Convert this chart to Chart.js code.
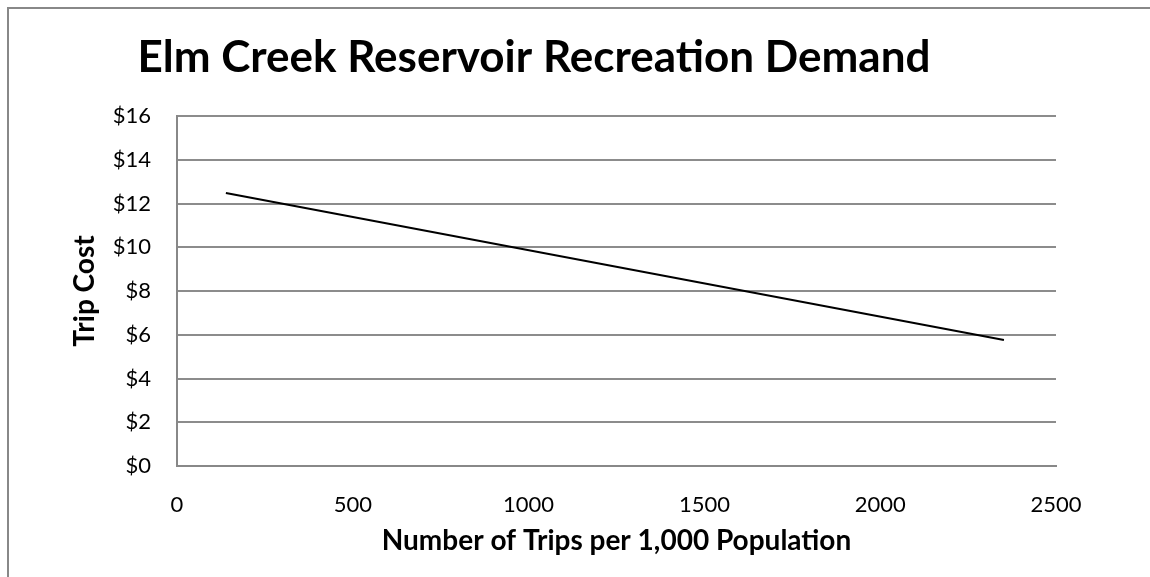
<!DOCTYPE html>
<html>
<head>
<meta charset="utf-8">
<script src="https://cdn.jsdelivr.net/npm/chart.js@4"></script>
<style>
  html, body { margin: 0; padding: 0; background: #fff; }
  #wrap { position: relative; width: 1150px; height: 577px; overflow: hidden; }
  #frame { position: absolute; left: 7px; top: 7px; width: 1160px; height: 600px; border: 2px solid #888; box-sizing: border-box; }
  canvas { position: absolute; left: 0; top: 0; }
</style>
</head>
<body>
<div id="wrap">
  <div id="frame"></div>
  <canvas id="demandChart" width="1150" height="577"></canvas>
</div>
<script>
// demand line (trips per 1,000 people, trip cost $)
let trips = [139, 2352];
let tripCost = [12.48, 5.76];
let xTicks = [0, 500, 1000, 1500, 2000, 2500];
let yTicks = [0, 2, 4, 6, 8, 10, 12, 14, 16];

let titleText = "Elm Creek Reservoir Recreation Demand";
let fontName = "Lato, 'Open Sans', sans-serif";

let points = trips.map((t, i) => ({ x: t, y: tripCost[i] }));

// title is drawn off-centre like in the excel chart
let titlePlugin = {
    id: 'sheetTitle',
    afterDraw(chart) {
        let c = chart.ctx;
        c.save();
        c.fillStyle = '#000';
        c.font = "bold 44px " + fontName;
        c.textAlign = 'center';
        c.textBaseline = 'middle';
        c.fillText(titleText, 534, 58);
        c.restore();
    }
};

let ctx = document.getElementById("demandChart").getContext("2d");

let chart = new Chart(ctx, {
    type: 'scatter',
    data: {
        datasets: [{
            label: 'Demand',
            data: points,
            showLine: true,
            borderColor: '#000',
            borderWidth: 2,
            pointRadius: 0,
            tension: 0
        }]
    },
    options: {
        responsive: false,
        animation: false,
        layout: { padding: { top: 116, right: 94, left: 68, bottom: 19 } },
        plugins: {
            legend: { display: false },
            tooltip: { enabled: false }
        },
        scales: {
            x: {
                type: 'linear',
                min: 0,
                max: 2500,
                afterBuildTicks: axis => { axis.ticks = xTicks.map(v => ({ value: v })); },
                afterFit: axis => { axis.height = 92; },
                grid: { display: false, drawTicks: false },
                border: { display: true, color: '#888', width: 2 },
                ticks: {
                    color: '#000',
                    padding: 26,
                    maxRotation: 0,
                    font: { family: fontName, size: 22 },
                    callback: v => String(v)
                },
                title: {
                    display: true,
                    text: 'Number of Trips per 1,000 Population',
                    color: '#000',
                    padding: 0,
                    font: { family: fontName, size: 28, weight: 'bold' }
                }
            },
            y: {
                min: 0,
                max: 16,
                afterBuildTicks: axis => { axis.ticks = yTicks.map(v => ({ value: v })); },
                afterFit: axis => { axis.width = 109; },
                grid: { color: '#8c8c8c', lineWidth: 2, drawTicks: false },
                border: { display: true, color: '#888', width: 2 },
                ticks: {
                    color: '#000',
                    padding: 26,
                    font: { family: fontName, size: 22 },
                    callback: v => '$' + v
                },
                title: {
                    display: true,
                    text: 'Trip Cost',
                    color: '#000',
                    padding: 0,
                    font: { family: fontName, size: 28, weight: 'bold' }
                }
            }
        }
    },
    plugins: [titlePlugin]
});
</script>
</body>
</html>
